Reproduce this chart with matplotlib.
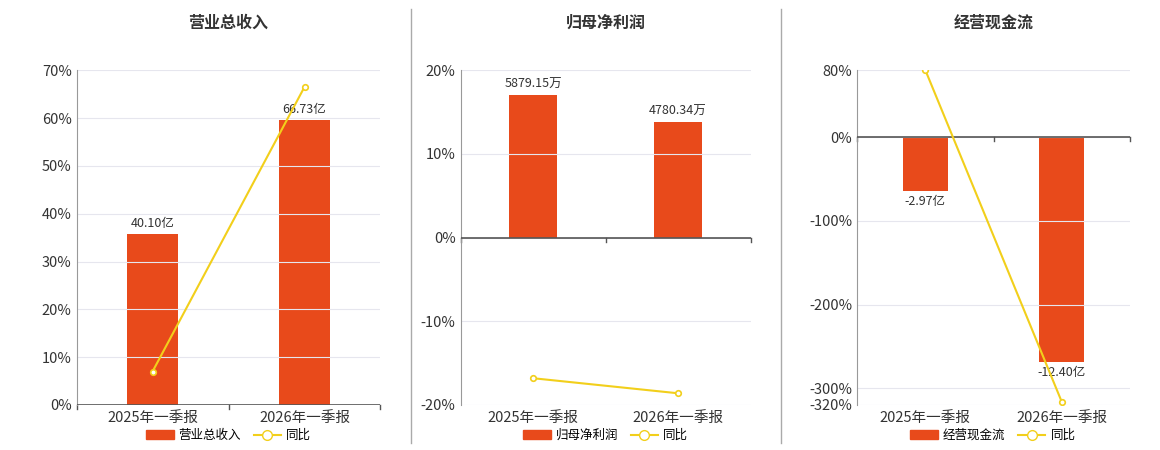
import matplotlib.pyplot as plt
from matplotlib.lines import Line2D
from matplotlib.patches import Patch

plt.rcParams['font.family'] = ['Noto Sans CJK SC', 'DejaVu Sans']

periods = ['2025年一季报', '2026年一季报']
titles = ['营业总收入', '归母净利润', '经营现金流']
bar_names = ['营业总收入', '归母净利润', '经营现金流']
bar_vals = [[40.10, 66.73], [5879.15, 4780.34], [-2.97, -12.40]]
bar_labels = [['40.10亿', '66.73亿'], ['5879.15万', '4780.34万'], ['-2.97亿', '-12.40亿']]
yoy = [[7.0, 66.5], [-16.8, -18.6], [80.0, -316.0]]

pct_lims = [(0, 70), (-20, 20), (-320, 80)]
pct_ticks = [[0, 10, 20, 30, 40, 50, 60, 70], [-20, -10, 0, 10, 20], [-320, -300, -200, -100, 0, 80]]
bar_lims = [(0, 78.5), (-6900, 6900), (-14.77, 3.69)]

bar_c = '#E84A1B'
line_c = '#F2CF1B'

fig = plt.figure(figsize=(11.6, 4.5), dpi=100)
rects = [[0.066, 0.1, 0.262, 0.744], [0.397, 0.1, 0.25, 0.744], [0.739, 0.1, 0.235, 0.744]]
legend_x = [0.197, 0.522, 0.856]

for i in range(3):
    ax = fig.add_axes(rects[i])
    ax2 = ax.twinx()
    x = [0, 1]
    ax2.bar(x, bar_vals[i], width=0.33, color=bar_c, zorder=2)
    ax2.set_ylim(*bar_lims[i])
    ax2.axis('off')
    for xi, v, lab in zip(x, bar_vals[i], bar_labels[i]):
        off = (bar_lims[i][1] - bar_lims[i][0]) * 0.012
        ax2.text(xi, v + off if v > 0 else v - off, lab, ha='center',
                 va='bottom' if v > 0 else 'top', fontsize=9, color='#333333')
    ax.set_zorder(ax2.get_zorder() + 1)
    ax.patch.set_visible(False)
    ax.plot(x, yoy[i], color=line_c, lw=1.5, marker='o', ms=4,
            mfc='white', mec=line_c, mew=1.2, zorder=5)
    ax.set_ylim(*pct_lims[i])
    ax.set_xlim(-0.5, 1.5)
    ax.set_yticks(pct_ticks[i])
    ax.set_yticklabels([f'{t}%' for t in pct_ticks[i]], fontsize=10.5, color='#333333')
    ax.set_xticks(x)
    ax.set_xticklabels(periods, fontsize=10.5, color='#333333')
    ax.tick_params(axis='x', length=0, pad=4)
    ax.tick_params(axis='y', length=0)
    ax.grid(axis='y', color='#e6e6ee', lw=0.8)
    for s in ['top', 'right', 'bottom']:
        ax.spines[s].set_visible(False)
    ax.spines['left'].set_color('#999999')
    ax.axhline(0, color='#555555', lw=1.2, zorder=3)
    for xt in [-0.5, 0.5, 1.5]:
        ax.plot([xt, xt], [0, -(pct_lims[i][1] - pct_lims[i][0]) * 0.012], color='#555555', lw=1, clip_on=False)
    fig.text(rects[i][0] + rects[i][2] / 2, 0.95, titles[i], ha='center', va='center',
             fontsize=11.5, fontweight='bold', color='#333333')
    handles = [Patch(color=bar_c, label=bar_names[i]),
               Line2D([], [], color=line_c, marker='o', mfc='white', mec=line_c, ms=7, label='同比')]
    fig.legend(handles=handles, loc='center', bbox_to_anchor=(legend_x[i], 0.032), ncol=2,
               frameon=False, fontsize=9, handlelength=2.2, columnspacing=1.0, handletextpad=0.4)

for xs in [0.354, 0.673]:
    fig.add_artist(Line2D([xs, xs], [0.015, 0.98], color='#aaaaaa', lw=1))

fig.savefig('out.png')
